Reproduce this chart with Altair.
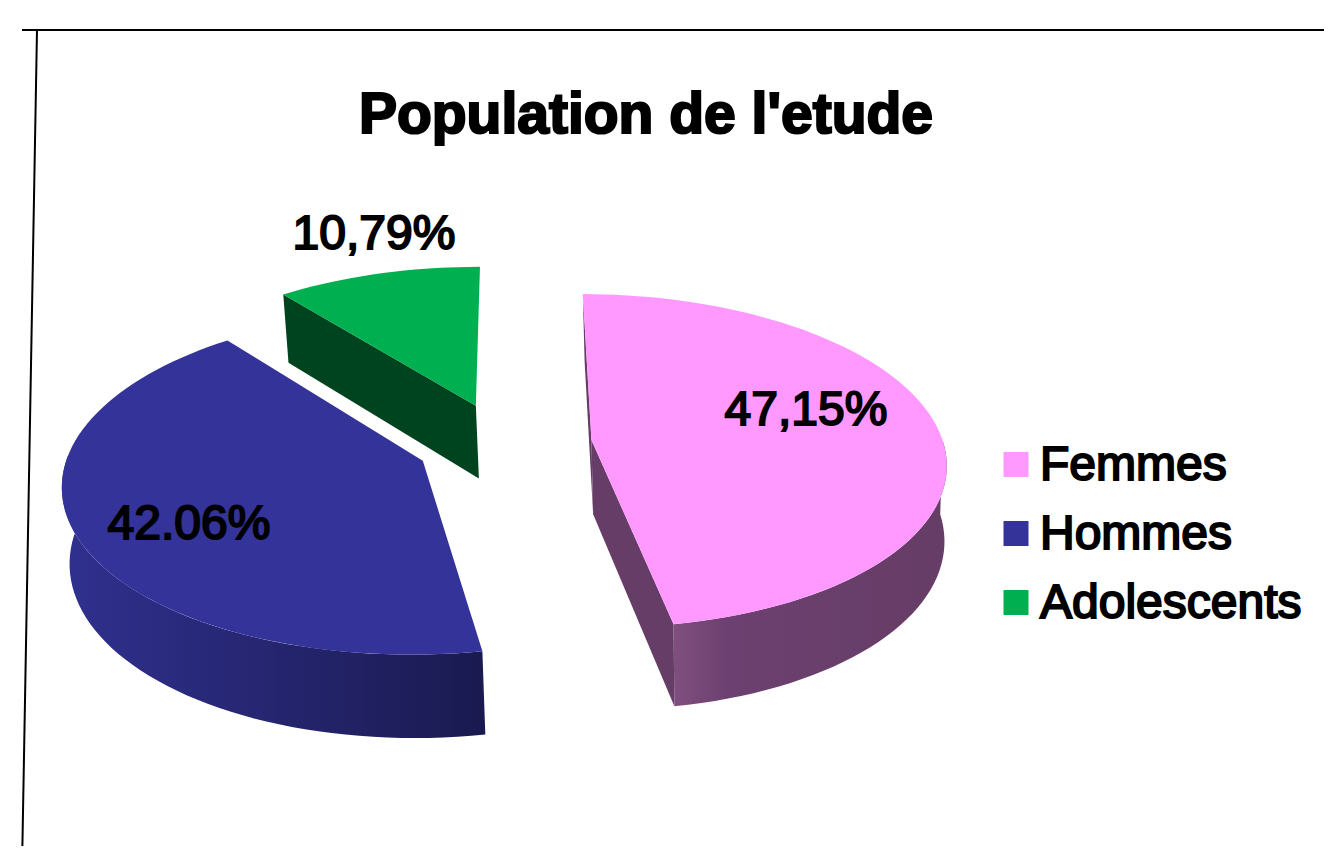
import math
import altair as alt
import pandas as pd

categories = ["Femmes", "Hommes", "Adolescents"]
values = [47.15, 42.06, 10.79]
slice_labels = ["47,15%", "42.06%", "10,79%"]
top_colors = ["#FF99FF", "#333399", "#00B050"]
side_colors = ["#663D66", "#2A2A80", "#00441F"]
title_text = "Population de l'etude"

START_ANGLE = 0.2
EXPLODE = 0.25
TILT = 0.125
TOP = dict(cx=504.0, cy=443.5, a=352.0, b=165.0)
BOTTOM = dict(cx=506.7, cy=518.0, a=348.0, b=172.0)


def project(wx, wy, plane):
    s = 1 / (1 + TILT * wy)
    return plane["cx"] + plane["a"] * wx * s, plane["cy"] - plane["b"] * wy * s


def rim(mid, angle):
    ex, ey = EXPLODE * math.sin(math.radians(mid)), EXPLODE * math.cos(math.radians(mid))
    return ex + math.sin(math.radians(angle)), ey + math.cos(math.radians(angle))


def apex(mid):
    return EXPLODE * math.sin(math.radians(mid)), EXPLODE * math.cos(math.radians(mid))


def sweep(a0, a1):
    n = max(2, int(abs(a1 - a0) / 2))
    return [a0 + (a1 - a0) * i / n for i in range(n + 1)]


spans = []
cursor = START_ANGLE
for v in values:
    spans.append((cursor, cursor + v * 3.6))
    cursor += v * 3.6


def frame(points):
    return pd.DataFrame({"x": [p[0] for p in points], "y": [p[1] for p in points], "i": range(len(points))})


def top_face(a0, a1):
    mid = (a0 + a1) / 2
    return [project(*apex(mid), TOP)] + [project(*rim(mid, a), TOP) for a in sweep(a0, a1)]


def rim_wall(a0, a1, mid):
    upper = [project(*rim(mid, a), TOP) for a in sweep(a0, a1)]
    lower = [project(*rim(mid, a), BOTTOM) for a in sweep(a1, a0)]
    return upper + lower


def cut_wall(mid, angle):
    w = rim(mid, angle)
    c = apex(mid)
    return [project(*c, TOP), project(*w, TOP), project(*w, BOTTOM), project(*c, BOTTOM)]


X = alt.X("x:Q", axis=None, scale=alt.Scale(domain=[8, 1324], range=[0, 1316], nice=False, zero=False))
Y = alt.Y("y:Q", axis=None, scale=alt.Scale(domain=[8, 846], range=[0, 838], nice=False, zero=False))


def poly(points, fill):
    return (
        alt.Chart(frame(points))
        .mark_line(fill=fill, stroke=None, strokeWidth=0, interpolate="linear")
        .encode(x=X, y=Y, order="i:Q")
    )


def grad(*stops):
    return alt.Gradient(
        gradient="linear", x1=0, x2=1, y1=0, y2=0,
        stops=[alt.GradientStop(offset=o, color=c) for o, c in stops],
    )


layers = []
mids = [(s[0] + s[1]) / 2 for s in spans]

# femmes
layers.append(poly(cut_wall(mids[0], spans[0][0]), side_colors[0]))
layers.append(poly(cut_wall(mids[0], spans[0][1]), side_colors[0]))
layers.append(poly(rim_wall(90, spans[0][1], mids[0]), grad((0, "#7F4F7F"), (0.2, "#6C4070"), (1, "#663D66"))))
layers.append(poly(top_face(*spans[0]), top_colors[0]))
# hommes
layers.append(poly(rim_wall(spans[1][0], 272, mids[1]), grad((0, "#30308F"), (1, "#1A1A50"))))
layers.append(poly(top_face(*spans[1]), top_colors[1]))
# adolescents
layers.append(poly(cut_wall(mids[2], spans[2][0]), side_colors[2]))
layers.append(poly(top_face(*spans[2]), top_colors[2]))


def text(label, x, y, size, weight="normal", align="center", sw=2.0):
    return (
        alt.Chart(pd.DataFrame({"t": [label]}))
        .mark_text(
            font="Liberation Sans", fontSize=size, fontWeight=weight, align=align,
            baseline="alphabetic", color="black", stroke="black", strokeWidth=sw,
        )
        .encode(x=alt.value(x - 8), y=alt.value(y - 8), text="t:N")
    )


layers.append(text(title_text, 646, 133, 57, "bold", sw=2.2))
layers.append(text(slice_labels[0], 806, 425, 48))
layers.append(text(slice_labels[1], 189, 539, 48))
layers.append(text(slice_labels[2], 374, 249, 48))

legend_y = [464.5, 533.5, 602.5]
for name, colour, ly in zip(categories, top_colors, legend_y):
    layers.append(
        alt.Chart(pd.DataFrame({"c": [name]}))
        .mark_square(size=625, opacity=1, filled=True, color=colour)
        .encode(x=alt.value(1016 - 8), y=alt.value(ly - 8))
    )
    layers.append(text(name, 1040, ly + 15, 48, align="left"))

# page frame
layers.append(
    alt.Chart(pd.DataFrame({"a": [0]}))
    .mark_rule(color="black", strokeWidth=2)
    .encode(x=alt.value(22 - 8), x2=alt.value(1324 - 8), y=alt.value(30 - 8))
)
layers.append(
    alt.Chart(pd.DataFrame({"a": [0]}))
    .mark_rule(color="black", strokeWidth=2)
    .encode(x=alt.value(37 - 8), x2=alt.value(22.4 - 8), y=alt.value(30 - 8), y2=alt.value(846 - 8))
)

chart = (
    alt.layer(*layers)
    .properties(width=1316, height=838, padding=0, autosize=alt.AutoSizeParams(type="none"))
    .configure_view(stroke=None)
)
chart.save("out.html", embed_options={"renderer": "svg", "actions": False})
